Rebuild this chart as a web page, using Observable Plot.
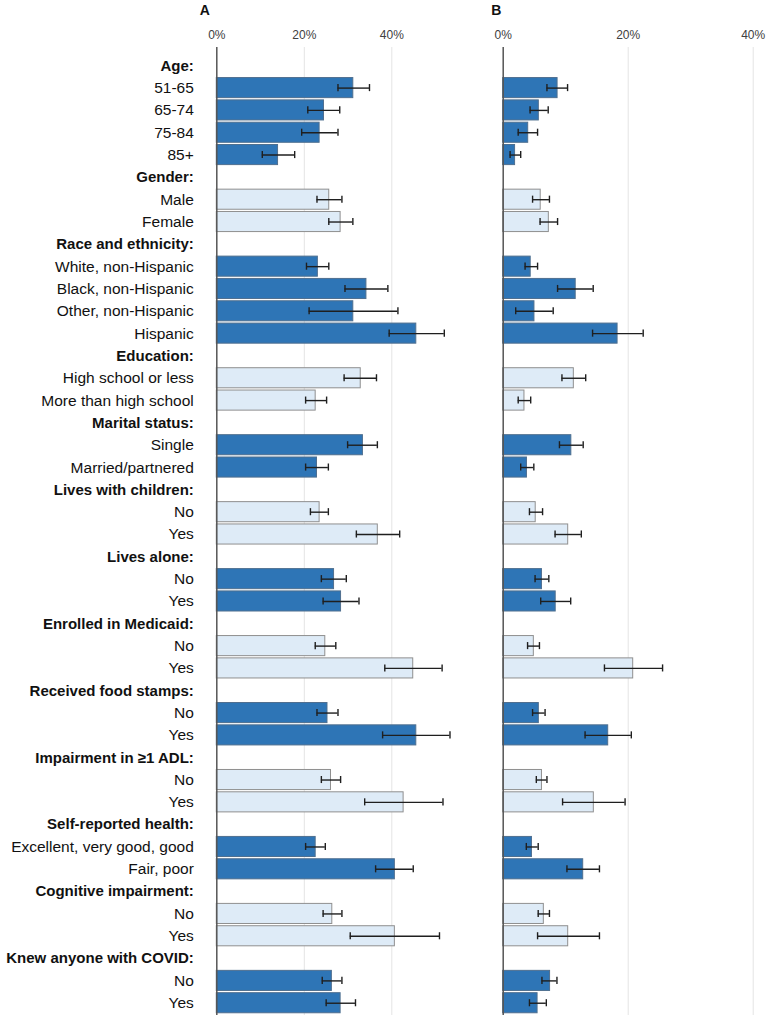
<!DOCTYPE html>
<html><head><meta charset="utf-8">
<script src="https://cdn.jsdelivr.net/npm/d3@7"></script>
<script src="https://cdn.jsdelivr.net/npm/@observablehq/plot@0.6"></script>
<style>
body{margin:0;background:#fff;}
#chart{position:relative;width:768px;height:1023px;font-family:"Liberation Sans",Arial,sans-serif;}
#chart svg{position:absolute;top:0;overflow:visible;}
</style></head><body><div id="chart"></div>
<script>
const labels = ["Age:","51-65","65-74","75-84","85+","Gender:","Male","Female","Race and ethnicity:","White, non-Hispanic","Black, non-Hispanic","Other, non-Hispanic","Hispanic","Education:","High school or less","More than high school","Marital status:","Single","Married/partnered","Lives with children:","No","Yes","Lives alone:","No","Yes","Enrolled in Medicaid:","No","Yes","Received food stamps:","No","Yes","Impairment in \u22651 ADL:","No","Yes","Self-reported health:","Excellent, very good, good","Fair, poor","Cognitive impairment:","No","Yes","Knew anyone with COVID:","No","Yes"];
const valueA = [null,31.2,24.5,23.5,14.0, null,25.7,28.3, null,23.1,34.2,31.2,45.6, null,32.9,22.6, null,33.4,22.9, null,23.5,36.8, null,26.8,28.4, null,24.8,44.9, null,25.3,45.6, null,26.1,42.7, null,22.6,40.7, null,26.4,40.7, null,26.3,28.3];
const lowA = [null,27.7,20.8,19.4,10.4, null,22.9,25.6, null,20.5,29.3,21.1,39.4, null,29.1,20.3, null,29.9,20.3, null,21.4,31.9, null,23.9,24.3, null,22.5,38.4, null,22.9,37.9, null,23.9,33.8, null,20.3,36.3, null,24.3,30.5, null,24.1,25.0];
const highA = [null,34.9,28.1,27.7,17.8, null,28.6,31.1, null,25.6,39.1,41.4,52.0, null,36.5,25.1, null,36.7,25.5, null,25.5,41.8, null,29.6,32.5, null,27.2,51.5, null,27.7,53.3, null,28.3,51.7, null,24.8,44.9, null,28.6,50.9, null,28.6,31.7];
const valueB = [null,8.7,5.7,4.0,1.9, null,6.0,7.3, null,4.4,11.6,5.0,18.3, null,11.3,3.4, null,10.9,3.8, null,5.2,10.4, null,6.2,8.4, null,4.9,20.8, null,5.7,16.8, null,6.2,14.5, null,4.6,12.8, null,6.5,10.4, null,7.5,5.5];
const lowB = [null,7.0,4.3,2.4,1.1, null,4.7,5.9, null,3.5,8.7,2.0,14.3, null,9.4,2.4, null,9.0,2.8, null,4.2,8.3, null,5.1,6.0, null,3.9,16.2, null,4.7,13.1, null,5.3,9.5, null,3.7,10.2, null,5.6,5.5, null,6.2,4.2];
const highB = [null,10.3,7.2,5.5,2.8, null,7.4,8.7, null,5.5,14.4,8.0,22.4, null,13.2,4.4, null,12.8,4.9, null,6.3,12.5, null,7.3,10.8, null,5.8,25.5, null,6.7,20.5, null,7.0,19.5, null,5.6,15.4, null,7.4,15.4, null,8.6,6.9];
const xTicks = [0, 20, 40];
const panels = ["A", "B"];

// build rows
let g = -1;
const rows = labels.map((label, i) => {
  const header = label.endsWith(":");
  if (header) g++;
  return {i, label, header, group: g,
    a: valueA[i], aLo: lowA[i], aHi: highA[i],
    b: valueB[i], bLo: lowB[i], bHi: highB[i]};
});
const dataRows = rows.filter(d => !d.header);
const fillOf = d => d.group % 2 === 0 ? "#2e75b6" : "#deebf7";
const strokeOf = d => d.group % 2 === 0 ? "#4f6f8f" : "#8f8f8f";

const H = 1023;
const yOpts = {type: "band", domain: d3.range(labels.length), range: [53, 1015], padding: 0.1, round: false, axis: null};

function panel({key, lo, hi, domain, range, width, left, letter, letterDx, withLabels}) {
  const marks = [
    Plot.ruleX(xTicks.filter(t => t > 0), {stroke: "#e4e4e4", strokeWidth: 1}),
    Plot.barX(dataRows, {x: key, y: "i", fill: fillOf, stroke: strokeOf, strokeWidth: 1}),
    Plot.ruleY(dataRows, {y: "i", x1: lo, x2: hi, stroke: "#1f1f1f", strokeWidth: 1.4}),
    Plot.tickX(dataRows, {x: lo, y: "i", stroke: "#1f1f1f", strokeWidth: 1.4, insetTop: 6.5, insetBottom: 6.5}),
    Plot.tickX(dataRows, {x: hi, y: "i", stroke: "#1f1f1f", strokeWidth: 1.4, insetTop: 6.5, insetBottom: 6.5}),
    Plot.ruleX([0], {stroke: "#555", strokeWidth: 1.5}),
    Plot.axisX(xTicks, {anchor: "top", tickSize: 0, tickPadding: 9, tickFormat: d => d + "%", fontSize: 12, color: "#404040"}),
    Plot.text([letter], {frameAnchor: "top-left", dx: letterDx, dy: -42, textAnchor: "middle", fontWeight: "bold", fontSize: 14, fill: "#111"})
  ];
  if (withLabels) {
    marks.push(Plot.text(rows.filter(d => d.header), {y: "i", text: "label", frameAnchor: "left", textAnchor: "end", dx: -23, fontWeight: "bold", fontSize: 15, fill: "#111"}));
    marks.push(Plot.text(dataRows, {y: "i", text: "label", frameAnchor: "left", textAnchor: "end", dx: -23, fontSize: 15.5, fill: "#111"}));
  }
  const svg = Plot.plot({
    width, height: H,
    marginTop: 47, marginBottom: 8, marginLeft: range[0], marginRight: width - range[1],
    style: {fontFamily: "'Liberation Sans', Arial, sans-serif", background: "transparent", overflow: "visible"},
    x: {domain, range, axis: null},
    y: yOpts,
    color: {type: "identity"},
    marks
  });
  svg.style.left = left + "px";
  document.getElementById("chart").appendChild(svg);
}

panel({key: "a", lo: "aLo", hi: "aHi", domain: [0, 60], range: [216.3, 478.8], width: 490, left: 0, letter: panels[0], letterDx: -12, withLabels: true});
panel({key: "b", lo: "bLo", hi: "bHi", domain: [0, 40], range: [12.7, 262.7], width: 278, left: 490, letter: panels[1], letterDx: -7, withLabels: false});
</script></body></html>
